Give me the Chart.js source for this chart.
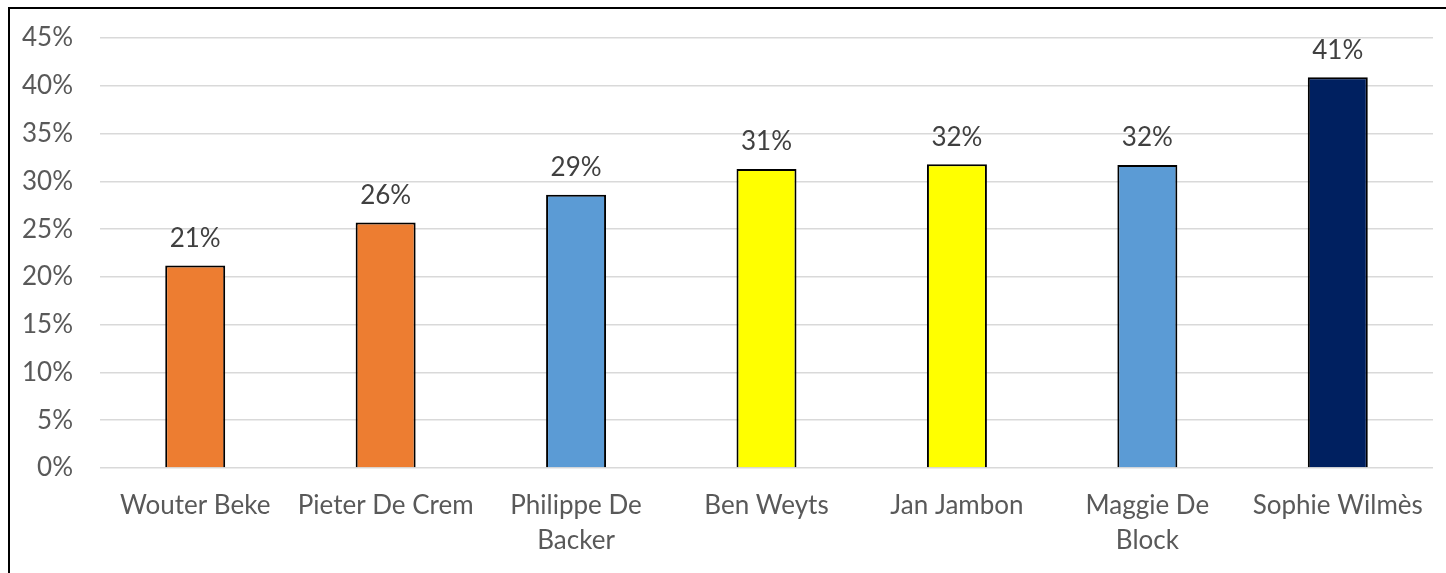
<!DOCTYPE html>
<html>
<head>
<meta charset="utf-8">
<script src="https://cdn.jsdelivr.net/npm/chart.js@4.4.0/dist/chart.umd.min.js"></script>
<style>
  html, body { margin: 0; padding: 0; background: #fff; }
  #wrap { width: 1446px; height: 573px; position: relative; }
</style>
</head>
<body>
<div id="wrap"><canvas id="chart" width="1446" height="573"></canvas></div>
<script>
// Chart data
const names = ["Wouter Beke", "Pieter De Crem", ["Philippe De", "Backer"], "Ben Weyts", "Jan Jambon", ["Maggie De", "Block"], "Sophie Wilmès"];
const shares = [21.2, 25.7, 28.6, 31.3, 31.8, 31.7, 40.9];
const barColors = ["#ED7D31", "#ED7D31", "#5B9BD5", "#FFFF00", "#FFFF00", "#5B9BD5", "#002060"];
const yTicks = [0, 5, 10, 15, 20, 25, 30, 35, 40, 45];

const FONT = "Lato, 'Open Sans', sans-serif";

// White background + outer frame (only left/top edges are in view)
const framePlugin = {
  id: "frame",
  beforeDraw(chart) {
    const c = chart.ctx;
    c.save();
    c.fillStyle = "#fff";
    c.fillRect(0, 0, chart.width, chart.height);
    c.strokeStyle = "#000";
    c.lineWidth = 2;
    c.beginPath();
    c.moveTo(9, chart.height + 5);
    c.lineTo(9, 8);
    c.lineTo(chart.width + 5, 8);
    c.stroke();
    c.restore();
  }
};

// Value labels above each bar
const valueLabels = {
  id: "valueLabels",
  afterDatasetsDraw(chart) {
    const c = chart.ctx;
    const meta = chart.getDatasetMeta(0);
    c.save();
    c.font = "26px " + FONT;
    c.fillStyle = "#404040";
    c.textAlign = "center";
    c.textBaseline = "middle";
    meta.data.forEach((bar, i) => {
      c.fillText(Math.round(shares[i]) + "%", bar.x, bar.y - 27);
    });
    c.restore();
  }
};

new Chart(document.getElementById("chart"), {
  type: "bar",
  data: {
    labels: names,
    datasets: [{
      data: shares,
      backgroundColor: barColors,
      borderColor: "#000",
      borderWidth: 2,
      borderSkipped: "bottom",
      categoryPercentage: 1,
      barPercentage: 0.315
    }]
  },
  options: {
    responsive: false,
    animation: false,
    layout: { padding: { top: 38, right: 13, left: 0, bottom: 0 } },
    plugins: { legend: { display: false }, tooltip: { enabled: false } },
    scales: {
      x: {
        grid: { display: false, drawTicks: false },
        border: { display: false },
        ticks: {
          color: "#595959",
          font: { family: FONT, size: 26, lineHeight: 1.35 },
          padding: 20,
          maxRotation: 0,
          autoSkip: false
        },
        afterFit(s) { s.height = 105; }
      },
      y: {
        min: 0,
        max: 45,
        afterBuildTicks(s) { s.ticks = yTicks.map(v => ({ value: v })); },
        grid: { color: "#d9d9d9", lineWidth: 1.5, drawTicks: false },
        border: { display: false },
        ticks: {
          color: "#595959",
          // small lineHeight keeps the top label overhang from pushing the plot down
          font: { family: FONT, size: 26, lineHeight: 0.8 },
          padding: 27,
          callback: v => v + "%"
        },
        afterFit(s) { s.width = 100; }
      }
    }
  },
  plugins: [framePlugin, valueLabels]
});
</script>
</body>
</html>
